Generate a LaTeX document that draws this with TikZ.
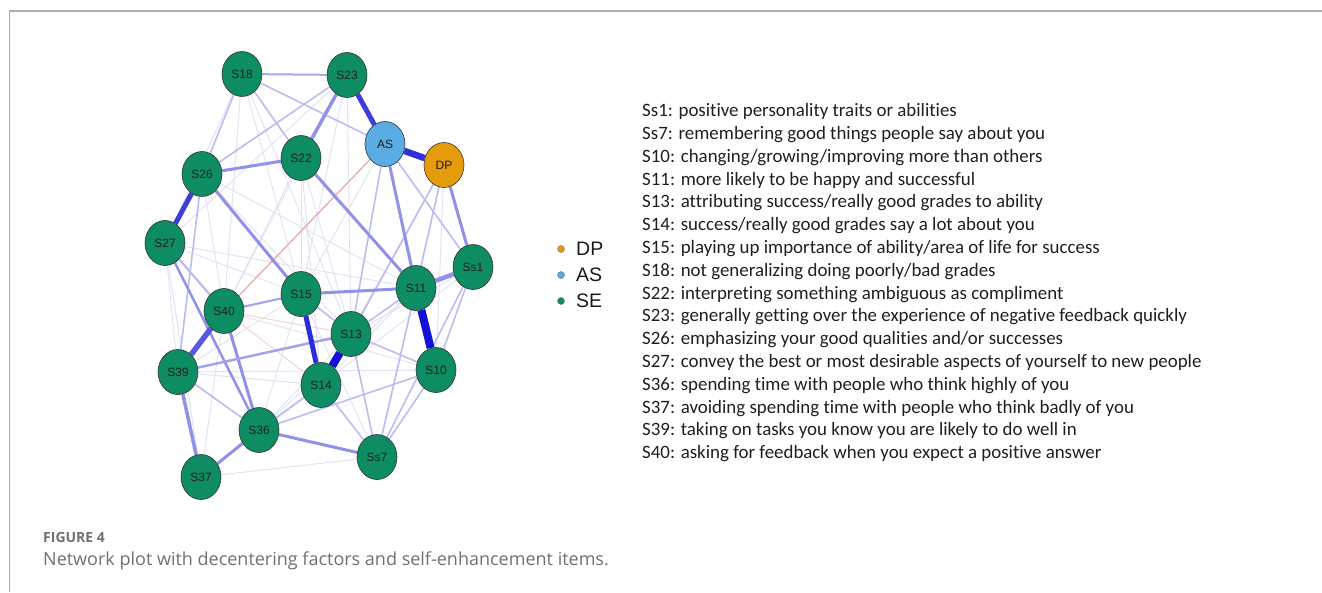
\documentclass[tikz,border=0pt]{standalone}
\usepackage{fontspec}
\setmainfont{Carlito}[Ligatures=NoCommon]
\newfontfamily\arialf{Liberation Sans}
\newfontfamily\capf{Open Sans}
\usetikzlibrary{shapes.geometric,backgrounds}
\definecolor{segreen}{RGB}{14,140,100}
\definecolor{asblue}{RGB}{90,172,226}
\definecolor{dporange}{RGB}{228,155,12}
\definecolor{estrong}{RGB}{18,18,215}
\definecolor{ebold}{RGB}{62,62,220}
\definecolor{emed}{RGB}{145,145,234}
\definecolor{elight}{RGB}{188,188,241}
\definecolor{efaint}{RGB}{226,226,246}
\definecolor{eneg}{RGB}{226,168,162}
\definecolor{enegfaint}{RGB}{240,212,210}
\definecolor{framegray}{RGB}{172,172,172}
\definecolor{capgray}{RGB}{112,112,112}
\tikzset{
  item/.style={ellipse, draw=black!80, line width=0.6pt, minimum width=40pt, minimum height=45pt, inner sep=0pt, font=\arialf\fontsize{12}{12}\selectfont, text=black!88},
  se/.style={item, fill=segreen},
  asnode/.style={item, fill=asblue},
  dpnode/.style={item, fill=dporange},
  faintedge/.style={draw=efaint, line width=1pt},
  lightedge/.style={draw=elight, line width=1.6pt},
  mededge/.style={draw=emed, line width=3pt},
  boldedge/.style={draw=ebold, line width=5pt},
  strongedge/.style={draw=estrong, line width=8pt},
  negedge/.style={draw=eneg, line width=1.2pt},
  itemtext/.style={anchor=base west, inner sep=0pt, font=\fontsize{18.9}{22.8}\selectfont, text=black!88},
  legdot/.style={circle, draw=black!55, line width=0.4pt, minimum size=7pt, inner sep=0pt},
  legtext/.style={anchor=west, inner sep=0pt, font=\arialf\fontsize{19.5}{20}\selectfont, text=black!90},
}
\begin{document}
\begin{tikzpicture}[x=1pt,y=-1pt]
\useasboundingbox (0,0) rectangle (1322,592);
% frame
\coordinate (fr1) at (1322,11);
\coordinate (fr2) at (9.5,11);
\coordinate (fr3) at (9.5,592);
\draw[framegray, line width=1.5pt] (fr1) -- (fr2) -- (fr3);
% nodes
\node[se] (S18) at (242,74) {S18};
\node[se] (S23) at (347,75) {S23};
\node[asnode] (AS) at (385,144) {AS};
\node[dpnode] (DP) at (444,165) {DP};
\node[se] (S22) at (301,158) {S22};
\node[se] (S26) at (202,174) {S26};
\node[se] (S27) at (165,243) {S27};
\node[se] (Ss1) at (473,267) {Ss1};
\node[se] (S11) at (416,288) {S11};
\node[se] (S15) at (301,294) {S15};
\node[se] (S40) at (224,311) {S40};
\node[se] (S13) at (351,334) {S13};
\node[se] (S39) at (178,372) {S39};
\node[se] (S10) at (436,370) {S10};
\node[se] (S14) at (321,385) {S14};
\node[se] (S36) at (259,430) {S36};
\node[se] (Ss7) at (377,457) {Ss7};
\node[se] (S37) at (201,477) {S37};
\begin{pgfonlayer}{background}
\foreach \a/\b in {S18/S15, S18/S40, S18/S27, S23/S13, S23/S15, S23/S27, S26/S40, S26/S39, S26/S13,
  S27/S39, S27/S11, S27/S15, S22/S15, S22/S13, S22/S40, S22/S14, S15/S39, S15/S36, S40/S10,
  S39/S14, S37/Ss7, S37/S14, S15/Ss7, S13/S36, S11/S14, S11/S36, DP/S10, DP/S14, AS/S15,
  AS/S10, Ss1/S13, Ss1/S14, S18/S13, S23/S40, S26/S11, S39/S10, S37/S40, S27/S37}
  \draw[faintedge] (\a) -- (\b);
\foreach \a/\b in {S18/S26, S18/S22, S23/S26, S13/S10, S36/S14, S36/S10, S14/Ss7, S13/Ss7,
  S10/Ss7, S11/Ss7, S13/S11, S15/S13, AS/Ss1, DP/S13, AS/S13, Ss1/S10, Ss1/Ss7, S39/S36,
  DP/S11, S18/AS, S26/S39}
  \draw[lightedge] (\a) -- (\b);
\draw[lightedge, line width=2.2pt] (S27) -- (S40);
\draw[lightedge, line width=2.2pt, draw=emed!80] (S40) -- (S15);
\draw[draw=enegfaint, line width=1pt] (S40) -- (S13);
\draw[draw=enegfaint, line width=1pt] (S40) -- (S14);
\draw[negedge] (AS) -- (S40);
\draw[mededge, line width=2pt, draw=emed!80] (S18) -- (S23);
\draw[mededge, line width=3.5pt] (S23) -- (S22);
\draw[mededge] (S26) -- (S22);
\draw[mededge, line width=4.5pt] (S11) -- (Ss1);
\draw[mededge] (S15) -- (S11);
\draw[mededge] (S22) -- (S11);
\draw[mededge] (S26) -- (S15);
\draw[mededge] (AS) -- (S11);
\draw[mededge] (DP) -- (Ss1);
\draw[mededge, line width=3.5pt] (S39) -- (S37);
\draw[mededge] (S37) -- (S36);
\draw[mededge] (S36) -- (Ss7);
\draw[mededge] (S40) -- (S36);
\draw[mededge, line width=2.5pt] (S27) -- (S36);
\draw[mededge, line width=2.5pt, draw=emed!85] (S39) -- (S13);
\draw[boldedge, line width=5.5pt, draw={rgb,255:red,88;green,88;blue,225}] (S40) -- (S39);
\draw[boldedge] (S26) -- (S27);
\draw[boldedge] (S23) -- (AS);
\draw[boldedge, line width=6.5pt, draw={rgb,255:red,48;green,48;blue,218}] (AS) -- (DP);
\draw[boldedge, draw={rgb,255:red,45;green,45;blue,215}] (S15) -- (S14);
\draw[strongedge] (S11) -- (S10);
\draw[strongedge] (S13) -- (S14);
\end{pgfonlayer}
% legend
\node[legdot, fill=dporange] (ldp) at (561,249) {};
\node[legdot, fill=asblue] (las) at (561,275) {};
\node[legdot, fill=segreen] (lse) at (561,301) {};
\node[legtext] (tdp) at (576,249) {DP};
\node[legtext] (tas) at (576,275) {AS};
\node[legtext] (tse) at (576,301) {SE};
% item descriptions
\node[itemtext] (t1) at (642,116.7) {Ss1: positive personality traits or abilities};
\node[itemtext] (t2) at (642,139.5) {Ss7: remembering good things people say about you};
\node[itemtext] (t3) at (642,162.3) {S10: changing/growing/improving more than others};
\node[itemtext] (t4) at (642,185.1) {S11: more likely to be happy and successful};
\node[itemtext] (t5) at (642,207.9) {S13: attributing success/really good grades to ability};
\node[itemtext] (t6) at (642,230.7) {S14: success/really good grades say a lot about you};
\node[itemtext] (t7) at (642,253.5) {S15: playing up importance of ability/area of life for success};
\node[itemtext] (t8) at (642,276.3) {S18: not generalizing doing poorly/bad grades};
\node[itemtext] (t9) at (642,299.1) {S22: interpreting something ambiguous as compliment};
\node[itemtext] (t10) at (642,321.9) {S23: generally getting over the experience of negative feedback quickly};
\node[itemtext] (t11) at (642,344.7) {S26: emphasizing your good qualities and/or successes};
\node[itemtext] (t12) at (642,367.5) {S27: convey the best or most desirable aspects of yourself to new people};
\node[itemtext] (t13) at (642,390.3) {S36: spending time with people who think highly of you};
\node[itemtext] (t14) at (642,413.1) {S37: avoiding spending time with people who think badly of you};
\node[itemtext] (t15) at (642,435.9) {S39: taking on tasks you know you are likely to do well in};
\node[itemtext] (t16) at (642,458.7) {S40: asking for feedback when you expect a positive answer};
% caption
\node[anchor=base west, inner sep=0pt, font=\capf\bfseries\fontsize{14}{16}\selectfont, text=capgray] (fig) at (43,542) {FIGURE 4};
\node[anchor=base west, inner sep=0pt, font=\capf\fontsize{18}{20}\selectfont, text=capgray] (cap) at (43,565) {Network plot with decentering factors and self-enhancement items.};
\end{tikzpicture}
\end{document}
